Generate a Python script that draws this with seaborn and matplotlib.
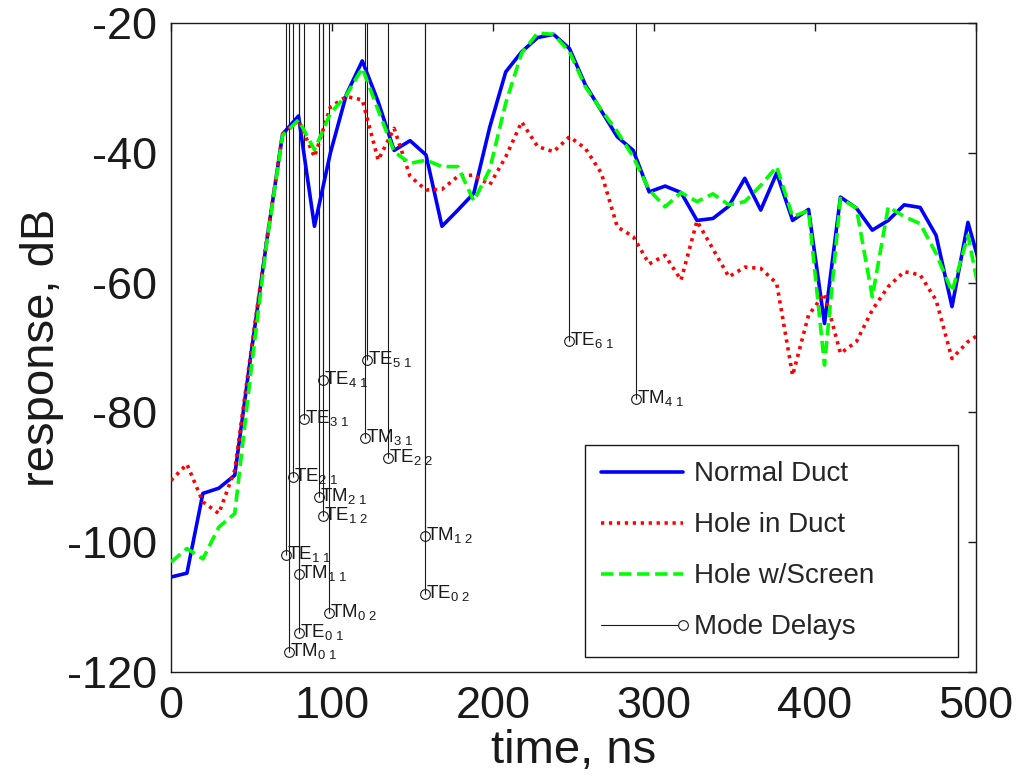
import matplotlib
matplotlib.use('Agg')
import matplotlib.pyplot as plt
import seaborn as sns
import pandas as pd
from matplotlib.lines import Line2D
from matplotlib.legend_handler import HandlerBase

# ---------------- data ----------------
time_ns = [0.0, 9.9, 19.8, 29.7, 39.6, 49.5, 59.4, 69.3, 79.2, 89.1,
           99.0, 108.9, 118.8, 128.7, 138.6, 148.5, 158.4, 168.3, 178.2, 188.1,
           198.0, 207.9, 217.8, 227.7, 237.6, 247.5, 257.4, 267.3, 277.2, 287.1,
           297.0, 306.9, 316.8, 326.7, 336.6, 346.5, 356.4, 366.3, 376.2, 386.1,
           396.0, 405.9, 415.8, 425.7, 435.6, 445.5, 455.4, 465.3, 475.2, 485.1,
           495.0, 504.9]

normal_duct = [-105.4, -104.8, -92.5, -91.7, -89.7, -71.4, -53.7, -37.1, -34.3, -51.3,
               -40.0, -31.0, -25.8, -32.1, -39.6, -38.1, -40.3, -51.3, -48.8, -46.2,
               -36.0, -27.5, -24.4, -22.2, -21.7, -23.9, -29.5, -33.5, -37.5, -39.6,
               -46.0, -45.1, -46.1, -50.4, -50.1, -48.2, -43.9, -48.8, -43.1, -50.4,
               -48.7, -66.3, -46.8, -48.5, -51.9, -50.4, -48.0, -48.4, -52.7, -63.7,
               -50.7, -59.5]

hole_in_duct = [-90.5, -88.0, -93.8, -95.6, -88.9, -70.9, -53.5, -37.1, -35.0, -40.6,
                -32.9, -31.3, -31.8, -41.1, -36.2, -43.6, -45.7, -45.6, -43.6, -43.4,
                -44.9, -40.6, -35.2, -39.0, -39.8, -37.5, -39.3, -43.1, -51.4, -52.9,
                -57.1, -55.8, -59.6, -50.5, -54.8, -59.1, -57.6, -57.8, -60.1, -74.3,
                -65.0, -61.7, -70.9, -69.1, -64.2, -60.6, -58.3, -58.8, -62.7, -71.7,
                -69.1, -67.5]

hole_w_screen = [-103.1, -101.0, -102.6, -97.7, -95.6, -74.0, -54.0, -37.3, -34.9, -39.5,
                 -33.9, -31.1, -26.9, -33.4, -39.8, -41.6, -41.1, -42.1, -42.1, -47.4,
                 -42.5, -32.3, -24.6, -21.5, -21.7, -24.4, -29.8, -33.4, -36.7, -40.6,
                 -45.7, -48.3, -46.1, -47.5, -46.3, -48.0, -47.5, -45.0, -42.1, -49.8,
                 -48.9, -72.7, -47.0, -48.5, -62.2, -48.3, -49.8, -50.9, -55.5, -61.4,
                 -52.7, -65.0]

mode_type = ['TE', 'TM', 'TE', 'TE', 'TM', 'TE', 'TM', 'TE', 'TE', 'TM',
             'TM', 'TE', 'TE', 'TM', 'TE', 'TE', 'TM']
mode_index = ['11', '01', '21', '01', '11', '31', '21', '41', '12', '02',
              '31', '51', '22', '12', '02', '61', '41']
mode_delay_ns = [71.2, 73.2, 75.5, 79.6, 79.6, 82.5, 92.2, 94.5, 94.7, 98.2,
                 120.3, 122.0, 135.0, 158.0, 158.0, 247.1, 288.9]
mode_level_db = [-102, -117, -90, -114, -105, -81, -93, -75, -96, -111,
                 -84, -72, -87, -99, -108, -69, -78]

series_labels = ['Normal Duct', 'Hole in Duct', 'Hole w/Screen', 'Mode Delays']
x_ticks = [0, 100, 200, 300, 400, 500]
y_ticks = [-120, -100, -80, -60, -40, -20]

# ---------------- style ----------------
sns.set_theme(style='white')
plt.rcParams['font.family'] = ['Liberation Sans', 'DejaVu Sans']
plt.rcParams['mathtext.default'] = 'regular'

BLUE = (0, 0, 1)
RED = (1, 0, 0)
GREEN = (0, 1, 0)
LW = 2.6
DOT = (0, (0.9, 1.3))
DASH = (0, (3.4, 1.6))

fig = plt.figure(figsize=(10.19, 7.77), dpi=100)
ax = fig.add_axes([0.1678, 0.1355, 0.790, 0.8345])

df = pd.DataFrame({'time': time_ns, 'normal': normal_duct,
                   'hole': hole_in_duct, 'screen': hole_w_screen})

sns.lineplot(data=df, x='time', y='normal', ax=ax, color=BLUE, lw=LW, zorder=3)
ax.lines[-1].set_linestyle('-')
sns.lineplot(data=df, x='time', y='hole', ax=ax, color=RED, lw=LW, zorder=3)
ax.lines[-1].set_linestyle(DOT)
sns.lineplot(data=df, x='time', y='screen', ax=ax, color=GREEN, lw=LW, zorder=4)
ax.lines[-1].set_linestyle(DASH)

# mode delays (stems)
ax.vlines(mode_delay_ns, mode_level_db, 0, colors='k', lw=0.8, zorder=2)
ax.plot(mode_delay_ns, mode_level_db, ls='none', marker='o', ms=7,
        mfc='none', mec='k', mew=0.8, zorder=5)
for mt, mi, xd, yd in zip(mode_type, mode_index, mode_delay_ns, mode_level_db):
    ax.annotate(mt + r'$_{' + mi[0] + r'\ ' + mi[1] + '}$', xy=(xd, yd),
                xytext=(1, -4), textcoords='offset pixels', fontsize=13.5,
                ha='left', va='baseline', color='k', zorder=6)

ax.set_xlim(0, 500)
ax.set_ylim(-120, -20)
ax.set_xticks(x_ticks)
ax.set_yticks(y_ticks)
ax.set_xticklabels([str(v) for v in x_ticks])
ax.set_yticklabels([str(v) for v in y_ticks])
ax.tick_params(direction='in', length=6, width=1, top=True, right=True,
               labelsize=32.5, colors='k')
ax.tick_params(axis='x', pad=10)
ax.tick_params(axis='y', pad=10)
for s in ax.spines.values():
    s.set_visible(True)
    s.set_color('k')
    s.set_linewidth(1.0)
ax.set_xlabel('time, ns', fontsize=34, labelpad=2, color='k')
ax.set_ylabel('response, dB', fontsize=34, labelpad=2, color='k')


class StemHandler(HandlerBase):
    def create_artists(self, legend, orig_handle, xdescent, ydescent, width,
                       height, fontsize, trans):
        y = height / 2 - ydescent
        ln = Line2D([-xdescent, width - xdescent], [y, y], color='k', lw=0.8)
        mk = Line2D([width - xdescent], [y], ls='none', marker='o', ms=7,
                    mfc='white', mec='k', mew=0.8)
        ln.set_transform(trans)
        mk.set_transform(trans)
        return [ln, mk]


stem_handle = Line2D([], [], color='k')
handles = [Line2D([], [], color=BLUE, lw=LW),
           Line2D([], [], color=RED, lw=LW, ls=DOT),
           Line2D([], [], color=GREEN, lw=LW, ls=DASH),
           stem_handle]
leg = ax.legend(handles, series_labels, loc='lower left', mode='expand',
                bbox_to_anchor=(0.514, 0.0227, 0.4636, 0.30), fontsize=20,
                frameon=True, fancybox=False, edgecolor='k', framealpha=1,
                handlelength=2.95, handletextpad=0.4, labelspacing=0.9,
                borderpad=0.6, borderaxespad=0,
                handler_map={stem_handle: StemHandler()})
leg.get_frame().set_linewidth(1.0)
leg.set_zorder(10)

fig.savefig('out.png', dpi=100)
